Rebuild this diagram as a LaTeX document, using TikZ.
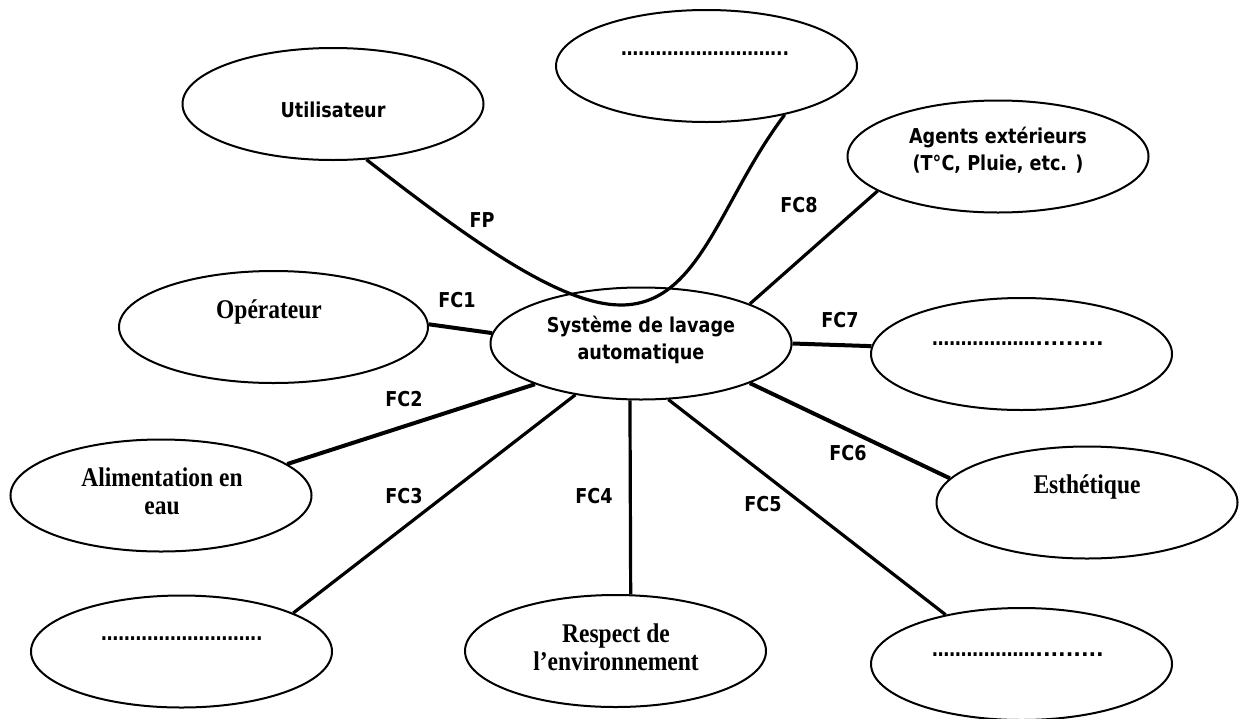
\documentclass[tikz,border=0pt]{standalone}
\usepackage{fontspec}
\newfontfamily\sansf[FakeStretch=0.86]{DejaVu Sans}
\newfontfamily\sansw{DejaVu Sans}
\newfontfamily\seriff[FakeStretch=0.87]{Liberation Serif}
\usetikzlibrary{shapes.geometric}
\tikzset{
  ell/.style={draw, line width=2pt, ellipse, minimum width=301pt, minimum height=112pt, inner sep=0pt},
  link/.style={line width=3.2pt},
  thicklink/.style={line width=4pt},
  stxt/.style={font=\sansf\bfseries\fontsize{20.5}{24}\selectfont, inner sep=0pt, anchor=base},
  rtxt/.style={font=\seriff\bfseries\fontsize{27}{30}\selectfont, inner sep=0pt, anchor=base},
  dtxt/.style={font=\sansf\bfseries\fontsize{20}{24}\selectfont, inner sep=0pt, anchor=base west},
}
\begin{document}
\begin{tikzpicture}[x=1pt, y=-1pt]
\useasboundingbox (0,0) rectangle (1242,718);
% ellipses
\node[ell] (U) at (333,104) {};
\node[ell] (T) at (706.5,66) {};
\node[ell] (C) at (641,343.5) {};
\node[ell, minimum width=309pt] (O) at (273.5,327) {};
\node[ell] (A) at (161,495.5) {};
\node[ell] (BL) at (181.5,651.5) {};
\node[ell] (R) at (615.5,651) {};
\node[ell] (Ag) at (998,156.5) {};
\node[ell] (F7) at (1021.5,354) {};
\node[ell] (E) at (1087,502.5) {};
\node[ell] (BR) at (1021.5,664) {};
% texts
\node[stxt] (tU) at (333,117) {Utilisateur};
\node[dtxt] (tT) at (621,55) {………………………..};
\node[rtxt] (tO) at (269,318) {Opérateur};
\node[stxt] (tC1) at (641,332) {Système de lavage};
\node[stxt] (tC2) at (641,359) {automatique};
\node[stxt] (tAg1) at (998,143) {Agents extérieurs};
\node[stxt] (tAg2) at (998,170) {(T°C, Pluie, etc. )};
\node[dtxt] (tF7) at (932,345) {………………{\sansw .........}};
\node[rtxt] (tA1) at (162,486) {Alimentation en};
\node[rtxt] (tA2) at (162,514) {eau};
\node[dtxt] (tBL) at (101,640) {……………………….};
\node[rtxt] (tR1) at (616,642) {Respect de};
\node[rtxt] (tR2) at (616,670) {l’environnement};
\node[rtxt] (tE) at (1087,493) {Esthétique};
\node[dtxt] (tBR) at (932,656) {………………{\sansw .........}};
% labels
\node[stxt] (lFP) at (482,227) {FP};
\node[stxt] (l1) at (457,307) {FC1};
\node[stxt] (l2) at (404,406) {FC2};
\node[stxt] (l3) at (404,503) {FC3};
\node[stxt] (l4) at (594,503) {FC4};
\node[stxt] (l5) at (763,511) {FC5};
\node[stxt] (l6) at (848,460) {FC6};
\node[stxt] (l7) at (840,327) {FC7};
\node[stxt] (l8) at (799,212) {FC8};
% connectors
\coordinate (fpdip) at (621,305);
\draw[link] (U.-59.2) .. controls (470,240) and (560,305) .. (fpdip)
            .. controls (700,305) and (720,200) .. (T.-32.8);
\draw[thicklink] (O.1) -- (C.176.8);
\draw[thicklink] (A.14.7) -- (C.201.3);
\draw[link] (BL.19) -- (C.218.9);
\draw[link] (C.259) -- (R.75.3);
\draw[link] (C.-64.8) -- (BR.147.4);
\draw[thicklink] (C.-20.9) -- (E.170.2);
\draw[thicklink] (C.-0.6) -- (F7.177.7);
\draw[link] (C.20.4) -- (Ag.-164.5);
\end{tikzpicture}
\end{document}
